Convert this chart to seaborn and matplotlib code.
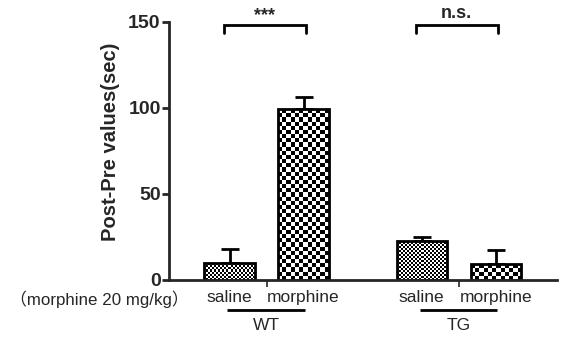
import numpy as np
import pandas as pd
import seaborn as sns
import matplotlib.pyplot as plt
from matplotlib.colors import ListedColormap

# Data
groups = ["WT", "WT", "TG", "TG"]
conditions = ["saline", "morphine", "saline", "morphine"]
means = [9.7, 99.4, 22.7, 9.2]
sems = [8.5, 6.9, 2.3, 8.2]
sig_labels = ["***", "n.s."]
dose_label = "\uff08morphine 20 mg/kg\uff09"

df = pd.DataFrame({"group": groups, "condition": conditions, "value": means, "sem": sems})
# x position: pairs of bars, wider gap between genotypes
group_idx = df["group"].map({"WT": 0, "TG": 1})
cond_idx = df["condition"].map({"saline": 0, "morphine": 1})
df["pos"] = group_idx * 2.6 + cond_idx

sns.set_style("ticks")
plt.rcParams["font.family"] = ["Liberation Sans", "Noto Sans CJK SC", "DejaVu Sans"]
LW = 2.0

fig = plt.figure(figsize=(5.61, 3.39), dpi=100)
ax = fig.add_axes([169 / 561, 1 - 280 / 339, (557 - 169) / 561, (280 - 22) / 339])

sns.barplot(data=df, x="pos", y="value", native_scale=True, width=0.68,
            errorbar=None, facecolor="none", edgecolor="black", linewidth=LW, ax=ax)
ax.errorbar(df["pos"], df["value"], yerr=[np.zeros(len(df)), df["sem"]], fmt="none",
            ecolor="black", elinewidth=LW, capsize=6.5, capthick=LW, zorder=0.5)

ax.set_xlim(-0.82, 4.43)
ax.set_ylim(0, 150)
ax.set_yticks([0, 50, 100, 150])
ax.set_ylabel("")
ax.set_xlabel("")
sns.despine(ax=ax)
for s in ["left", "bottom"]:
    ax.spines[s].set_linewidth(LW)
ax.tick_params(axis="y", length=5, width=LW, labelsize=14, pad=1)
for t in ax.get_yticklabels():
    t.set_fontweight("bold")

# small separating ticks between the two bars of each pair
mids = df.groupby("group", sort=False)["pos"].mean().values
ax.set_xticks(mids)
ax.set_xticklabels([])
ax.tick_params(axis="x", length=5, width=1.2)

# checkerboard fills
fig.canvas.draw()
cmap = ListedColormap(["white", "black"])
for p, cond in zip(ax.patches, df["condition"]):
    x0, y0, w, h = p.get_x(), p.get_y(), p.get_width(), p.get_height()
    (px0, py0), (px1, py1) = ax.transData.transform([(x0, y0), (x0 + w, y0 + h)])
    cell = 2.0 if cond == "saline" else 4.2
    nx = max(1, int(round(abs(px1 - px0) / cell)))
    ny = max(1, int(round(abs(py1 - py0) / cell)))
    board = np.indices((ny, nx)).sum(axis=0) % 2
    im = ax.imshow(board, cmap=cmap, extent=(x0, x0 + w, y0, y0 + h), origin="lower",
                   aspect="auto", interpolation="nearest", zorder=0.8)
    im.set_clip_path(p)
ax.set_xlim(-0.82, 4.43)
ax.set_ylim(0, 150)

# category labels and genotype underlines
tr = ax.get_xaxis_transform()
for pos, cond in zip(df["pos"], df["condition"]):
    ax.text(pos, -0.066, cond, transform=tr, ha="center", va="center", fontsize=12.5)
for g, sub in df.groupby("group", sort=False):
    lo, hi = sub["pos"].min(), sub["pos"].max()
    ax.plot([lo - 0.03, hi + 0.02], [-0.116, -0.116], transform=tr, color="black",
            lw=LW, clip_on=False, solid_capstyle="butt")
    ax.text((lo + hi) / 2, -0.178, g, transform=tr, ha="center", va="center", fontsize=12.5)
fig.text(10 / 561, 1 - 299 / 339, dose_label, ha="left", va="center", fontsize=12.2)

# significance brackets
for (g, sub), lab in zip(df.groupby("group", sort=False), sig_labels):
    lo, hi = sub["pos"].min() - 0.08, sub["pos"].max() + 0.03
    ax.plot([lo, lo, hi, hi], [143.5, 148, 148, 143.5], color="black", lw=LW,
            clip_on=False, solid_joinstyle="miter")
    ax.text((lo + hi) / 2, 149 if lab == "***" else 150, lab, ha="center", va="bottom",
            fontsize=13, fontweight="bold", clip_on=False)

fig.text(110 / 561, 1 - 142 / 339, "Post-Pre values(sec)", rotation=90, ha="center",
         va="center", fontsize=14.5, fontweight="bold")

fig.savefig("out.png", dpi=100)
